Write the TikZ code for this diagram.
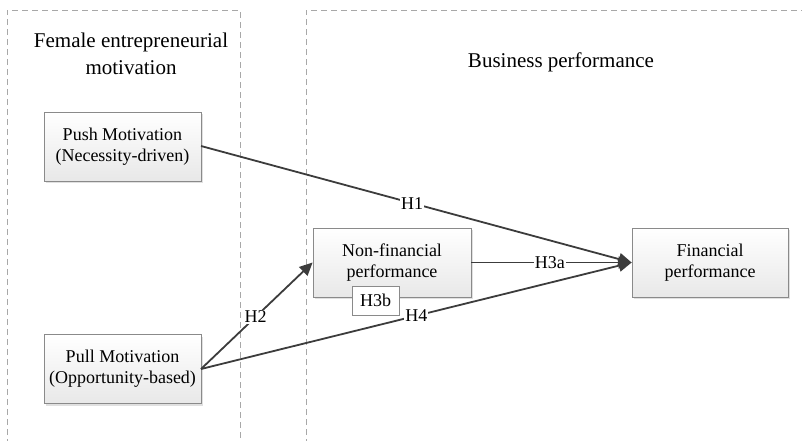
\documentclass[tikz,border=0pt]{standalone}
\usepackage{fontspec}
\setmainfont{Liberation Serif}
\usetikzlibrary{arrows.meta,shadows}
\definecolor{lineg}{HTML}{3C3C3C}
\definecolor{boxedge}{HTML}{8A8A8A}
\definecolor{regedge}{HTML}{A8A8A8}
\tikzset{
  var/.style={draw=boxedge, line width=0.8pt, top color=white, bottom color=black!9,
     minimum width=157pt, minimum height=69pt, align=center, inner sep=0pt,
     font=\fontsize{18}{21}\selectfont,
     drop shadow={shadow xshift=2pt, shadow yshift=-2pt, opacity=0.2, fill=black!60}},
  region/.style={draw=regedge, dash pattern=on 6pt off 4pt, line width=0.7pt},
  head/.style={align=center, font=\fontsize{21}{27}\selectfont},
  link/.style={draw=lineg, line width=1.8pt, -{Triangle[length=13pt,width=12pt]}},
  lab/.style={fill=white, inner sep=1pt, font=\fontsize{18}{21}\selectfont},
}
\begin{document}
\begin{tikzpicture}[x=1pt,y=-1pt]
\useasboundingbox (0,0) rectangle (802,440);
% regions
\draw[region] (7,445) -- (7,10) -- (240,10) -- (240,445);
\draw[region] (306,445) -- (306,10) -- (810,10);
\node[head] (hL) at (131,54) {Female entrepreneurial\\motivation};
\node[head] (hR) at (561,62) {Business performance};
% boxes
\node[var] (push) at (122.5,146.5) {Push Motivation\\(Necessity-driven)};
\node[var] (pull) at (122.5,369) {Pull Motivation\\(Opportunity-based)};
\node[var, minimum width=158pt] (nonfin) at (392,262.5) {Non-financial\\performance};
\node[var, minimum width=156pt] (fin) at (710,262.5) {Financial\\performance};
% connectors
\coordinate (pushR) at (201,146);
\coordinate (pullR) at (201,369);
\draw[link] (pushR) -- node[lab, pos=0.49] (l1) {H1} (fin.west);
\draw[link] (nonfin.east) -- node[lab, pos=0.49] (l3a) {H3a} (fin.west);
\draw[link] (pullR) -- node[lab, pos=0.5] (l4) {H4} (fin.west);
\draw[link] (pullR) -- node[lab, pos=0.49] (l2) {H2} (nonfin.west);
\node[draw=boxedge, line width=0.8pt, fill=white, minimum width=47pt, minimum height=29pt,
      inner sep=0pt, font=\fontsize{18}{21}\selectfont] (h3b) at (375.5,300.5) {H3b};
\end{tikzpicture}
\end{document}
